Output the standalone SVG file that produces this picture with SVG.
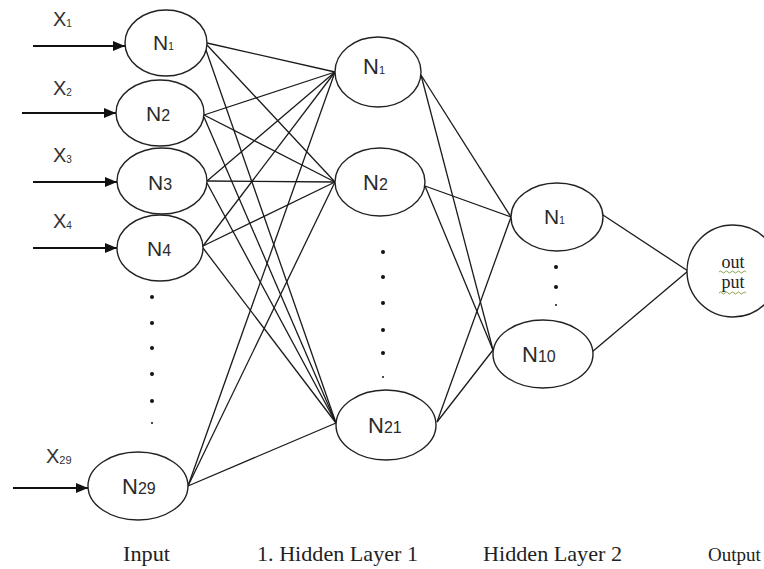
<svg xmlns="http://www.w3.org/2000/svg" width="764" height="569" viewBox="0 0 764 569">
<defs>
<marker id="ah" viewBox="0 0 12 10" refX="12" refY="5" markerWidth="12" markerHeight="10" markerUnits="userSpaceOnUse" orient="auto">
<path d="M0,0 L12,5 L0,10 z" fill="#111"/>
</marker>
<style>
.node ellipse, .node circle{fill:#fff;stroke:#222;stroke-width:1.4}
.lbl{font-family:"Liberation Sans",Arial,sans-serif;fill:#2a2a2a}
.xl{font-family:"Liberation Sans",Arial,sans-serif;fill:#333}
.cap{font-family:"Liberation Serif","Times New Roman",serif;fill:#222}
.conn line{stroke:#1a1a1a;stroke-width:1.3}
.arr line{stroke:#111;stroke-width:2.2}
.dot{fill:#111}
</style>
</defs>
<rect width="764" height="569" fill="#fff"/>

<g class="conn" id="connectors">
<line x1="207" y1="43" x2="335" y2="72"/>
<line x1="207" y1="45" x2="335" y2="182"/>
<line x1="206" y1="50" x2="336" y2="423"/>
<line x1="204" y1="115" x2="335" y2="72"/>
<line x1="204" y1="115" x2="335" y2="182"/>
<line x1="204" y1="117" x2="336" y2="423"/>
<line x1="207" y1="181" x2="335" y2="72"/>
<line x1="207" y1="181" x2="335" y2="182"/>
<line x1="207" y1="183" x2="336" y2="423"/>
<line x1="203" y1="246" x2="335" y2="72"/>
<line x1="203" y1="246" x2="335" y2="182"/>
<line x1="203" y1="248" x2="336" y2="423"/>
<line x1="188" y1="486" x2="335" y2="72"/>
<line x1="188" y1="486" x2="335" y2="182"/>
<line x1="188" y1="486" x2="336" y2="423"/>
<line x1="421" y1="75" x2="511" y2="217"/>
<line x1="421" y1="75" x2="493" y2="350"/>
<line x1="425" y1="186" x2="511" y2="217"/>
<line x1="425" y1="186" x2="493" y2="350"/>
<line x1="437" y1="422" x2="511" y2="217"/>
<line x1="437" y1="422" x2="493" y2="350"/>
<line x1="603" y1="215" x2="688" y2="271"/>
<line x1="592" y1="352" x2="688" y2="271"/>
</g>

<g class="arr" id="input-arrows">
<line x1="33" y1="46" x2="125" y2="46" marker-end="url(#ah)"/>
<line x1="22" y1="113" x2="116" y2="113" marker-end="url(#ah)"/>
<line x1="33" y1="182" x2="117" y2="182" marker-end="url(#ah)"/>
<line x1="33" y1="248" x2="117" y2="248" marker-end="url(#ah)"/>
<line x1="13" y1="488" x2="88" y2="488" marker-end="url(#ah)"/>
</g>

<g id="x-labels">
<text class="xl" style="font-size:20px" x="53" y="26">X<tspan style="font-size:10px" dy="1">1</tspan></text>
<text class="xl" style="font-size:20px" x="53" y="95">X<tspan style="font-size:10px" dy="1">2</tspan></text>
<text class="xl" style="font-size:20px" x="53" y="162">X<tspan style="font-size:10px" dy="1">3</tspan></text>
<text class="xl" style="font-size:20px" x="53" y="228">X<tspan style="font-size:10px" dy="1">4</tspan></text>
<text class="xl" style="font-size:20px" x="46" y="463">X<tspan style="font-size:11px" dy="1">29</tspan></text>
</g>

<g class="node" id="in-n1"><ellipse cx="166" cy="43" rx="41" ry="33"/><text class="lbl" style="font-size:21px" x="153" y="50">N<tspan style="font-size:10px">1</tspan></text></g>
<g class="node" id="in-n2"><ellipse cx="160" cy="113" rx="44" ry="33"/><text class="lbl" style="font-size:21px" x="146" y="121">N<tspan style="font-size:16px">2</tspan></text></g>
<g class="node" id="in-n3"><ellipse cx="162" cy="181" rx="45" ry="33"/><text class="lbl" style="font-size:21px" x="148" y="190">N<tspan style="font-size:16px">3</tspan></text></g>
<g class="node" id="in-n4"><ellipse cx="160" cy="248" rx="43" ry="33"/><text class="lbl" style="font-size:21px" x="147" y="256">N<tspan style="font-size:16px">4</tspan></text></g>
<g class="node" id="in-n29"><ellipse cx="138" cy="486" rx="50" ry="34"/><text class="lbl" style="font-size:22px" x="122" y="494">N<tspan style="font-size:16px">29</tspan></text></g>

<g class="node" id="h1-n1"><ellipse cx="378" cy="72" rx="43" ry="35"/><text class="lbl" style="font-size:22px" x="363" y="74">N<tspan style="font-size:11px">1</tspan></text></g>
<g class="node" id="h1-n2"><ellipse cx="380" cy="182" rx="45" ry="34"/><text class="lbl" style="font-size:22px" x="363" y="190">N<tspan style="font-size:16px">2</tspan></text></g>
<g class="node" id="h1-n21"><ellipse cx="386" cy="425" rx="50" ry="35"/><text class="lbl" style="font-size:22px" x="368" y="433">N<tspan style="font-size:16px">21</tspan></text></g>

<g class="node" id="h2-n1"><ellipse cx="557" cy="217" rx="46" ry="34"/><text class="lbl" style="font-size:21px" x="544" y="224">N<tspan style="font-size:10px">1</tspan></text></g>
<g class="node" id="h2-n10"><ellipse cx="543" cy="354" rx="50" ry="34"/><text class="lbl" style="font-size:22px" x="522" y="362">N<tspan style="font-size:16px">10</tspan></text></g>

<g class="node" id="output"><circle cx="733" cy="271" r="46"/>
<text class="cap" style="font-size:18px" x="733" y="268" text-anchor="middle">out</text>
<text class="cap" style="font-size:18px" x="733" y="288" text-anchor="middle">put</text>
<path d="M719,272 q1.5,-2 3,0 t3,0 t3,0 t3,0 t3,0 t3,0 t3,0 t3,0 t3,0" fill="none" stroke="#7a9a3a" stroke-width="0.9"/>
<path d="M719,293 q1.5,-2 3,0 t3,0 t3,0 t3,0 t3,0 t3,0 t3,0 t3,0 t3,0" fill="none" stroke="#7a9a3a" stroke-width="0.9"/>
</g>

<g id="ellipsis-dots">
<circle class="dot" cx="152" cy="297" r="2"/><circle class="dot" cx="152" cy="323" r="2"/><circle class="dot" cx="152" cy="348" r="2"/><circle class="dot" cx="152" cy="374" r="2"/><circle class="dot" cx="152" cy="401" r="2"/><circle class="dot" cx="152" cy="423" r="1"/>
<circle class="dot" cx="383" cy="252" r="2"/><circle class="dot" cx="383" cy="277" r="2"/><circle class="dot" cx="383" cy="303" r="2"/><circle class="dot" cx="383" cy="330" r="2"/><circle class="dot" cx="383" cy="353" r="2"/><circle class="dot" cx="383" cy="377" r="1"/>
<circle class="dot" cx="556" cy="267" r="2"/><circle class="dot" cx="556" cy="287" r="2"/><circle class="dot" cx="556" cy="305" r="1"/>
</g>

<g id="captions">
<text class="cap" style="font-size:21px" x="123" y="561" textLength="47" lengthAdjust="spacingAndGlyphs">Input</text>
<text class="cap" style="font-size:21px" x="257" y="561" textLength="161" lengthAdjust="spacingAndGlyphs">1. Hidden Layer 1</text>
<text class="cap" style="font-size:21px" x="483" y="561" textLength="139" lengthAdjust="spacingAndGlyphs">Hidden Layer 2</text>
<text class="cap" style="font-size:19px" x="708" y="561">Output</text>
</g>
</svg>
